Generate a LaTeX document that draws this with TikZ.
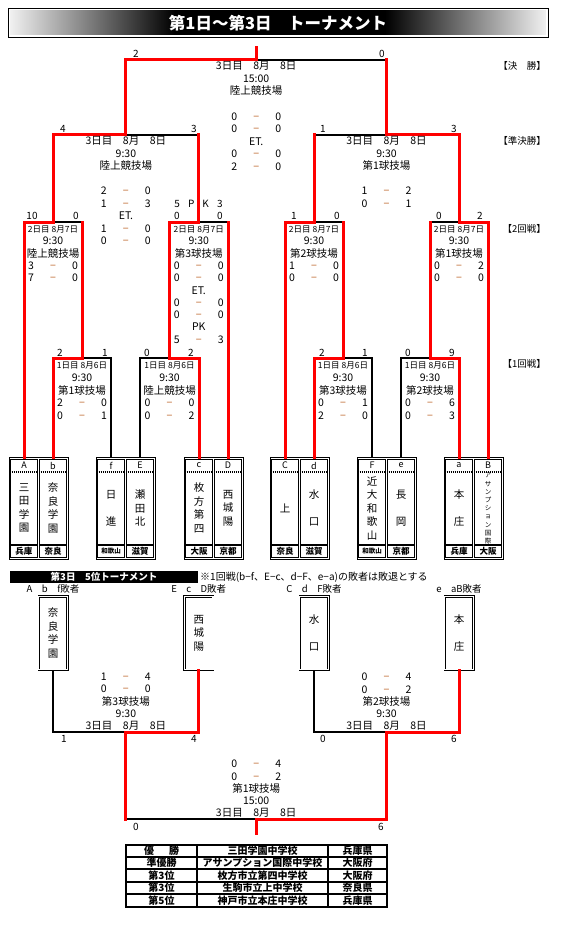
\documentclass[tikz,border=0pt]{standalone}
\usepackage{fontspec}
\setmainfont{Noto Sans CJK JP}
\usetikzlibrary{calc}

\definecolor{dashc}{RGB}{190,100,40}

% one score row: left, dash, right
\newcommand{\scoreln}[2]{\makebox[8pt]{#1}\makebox[36pt]{\textcolor{dashc}{−}}\makebox[8pt]{#2}}

\tikzset{
  win/.style={red, line width=3pt, line cap=rect},
  lose/.style={black, line width=1.1pt},
  info/.style={anchor=north, align=center, inner sep=0pt, font=\fontsize{10.5}{#1}\selectfont},
  day/.style={inner sep=0pt, font=\fontsize{8.5}{9}\selectfont},
  num/.style={inner sep=0pt, font=\fontsize{10}{10}\selectfont},
  rnd/.style={anchor=east, inner sep=0pt, font=\fontsize{9.5}{10}\selectfont},
  fifth/.style={draw, double, double distance=1.3pt, line width=0.6pt, minimum width=28.5pt,
    minimum height=73.5pt, inner sep=0pt, align=center, font=\fontsize{10.5}{13.5}\selectfont},
  cell/.style={inner sep=0pt, font=\fontsize{10}{10}\selectfont\bfseries}
}

\begin{document}
\begin{tikzpicture}[x=1pt,y=-1pt]
\useasboundingbox (0,0) rectangle (560,936);
\fill[white] (0,0) rectangle (560,936);

% title bar
\shade[left color=gray!10, right color=black] (9,9) rectangle (175,36);
\fill[black] (175,9) rectangle (385,36);
\shade[left color=black, right color=gray!10] (385,9) rectangle (547,36);
\draw[line width=0.8pt] (8,8) rectangle (548,37);
\draw[white, line width=0.5pt] (9.6,9.6) rectangle (546.4,35.4);
\node[text=white, inner sep=0pt, font=\fontsize{16.5}{16.5}\selectfont\bfseries] (title) at (278,23) {第1日～第3日　トーナメント};

% round labels
\node[rnd] (lbF) at (546,66) {【決　勝】};
\node[rnd] (lbS) at (546,141) {【準決勝】};
\node[rnd] (lb2) at (546,229) {【2回戦】};
\node[rnd] (lb1) at (546,364) {【1回戦】};

% team boxes
\foreach \x in {24,111,199,285,372,459}
  \draw[line width=0.8pt] (\x-15,457) rectangle (\x+44,559);
\foreach \x/\lt/\nm/\pf in {24/A/{三\\田\\学\\園}/兵庫, 53/b/{奈\\良\\学\\園}/奈良,
    111/f/{日\\[13.5pt]進}/{\fontsize{6.5}{7}\selectfont 和歌山}, 140/E/{瀬\\田\\北}/滋賀,
    199/c/{枚\\方\\第\\四}/大阪, 228/D/{西\\城\\陽}/京都,
    285/C/{上}/奈良, 314/d/{水\\[13.5pt]口}/滋賀,
    372/F/{近\\大\\和\\歌\\山}/{\fontsize{6.5}{7}\selectfont 和歌山}, 401/e/{長\\[13.5pt]岡}/京都,
    459/a/{本\\[13.5pt]庄}/兵庫, 488/B/{}/大阪}{
  \draw[line width=0.8pt] (\x-13.5,459) rectangle (\x+13.5,557);
  \draw[line width=1.1pt, dash pattern=on 1pt off 1pt] (\x-12.5,472) -- (\x+12.5,472);
  \draw[line width=1.3pt] (\x-13.5,545) -- (\x+13.5,545);
  \coordinate (\lt) at (\x,457);
  \node[inner sep=0pt, font=\fontsize{9}{9}\selectfont] (lt\lt) at (\x,465.5) {\lt};
  \node[align=center, inner sep=0pt, font=\fontsize{10.5}{13.5}\selectfont] (nm\lt) at (\x,508) {\nm};
  \node[inner sep=0pt, font=\fontsize{8.5}{9}\selectfont\bfseries] (pf\lt) at (\x,551.5) {\pf};
}
\node[align=center, inner sep=0pt, font=\fontsize{6.5}{8.2}\selectfont] (nmBx) at (488,508.5)
  {ア\\サ\\ン\\プ\\シ\\ョ\\ン\\国\\際};

% bracket points
\coordinate (m1) at (82,358);
\coordinate (m2) at (169.5,358);
\coordinate (m3) at (343,358);
\coordinate (m4) at (430,358);
\coordinate (q1) at (53,222);
\coordinate (q2) at (198.75,222);
\coordinate (q3) at (314,222);
\coordinate (q4) at (459,222);
\coordinate (s1) at (125.9,135);
\coordinate (s2) at (386.5,135);
\coordinate (fin) at (256.2,60);
\coordinate (champ) at (256.2,48);

% 1st round
\draw[lose] (f) |- (m1);
\draw[lose] (E) |- (m2);
\draw[lose] (F) |- (m3);
\draw[lose] (e) |- (m4);
\draw[win] (b) |- (m1);
\draw[win] (c) |- (m2);
\draw[win] (d) |- (m3);
\draw[win] (a) |- (m4);

% 2nd round
\draw[lose] (m1 |- q1) -- (q1);
\draw[lose] (D |- q2) -- (q2);
\draw[lose] (m3 |- q3) -- (q3);
\draw[lose] (m4 |- q4) -- (q4);
\draw[win] (A) |- (q1);
\draw[win] (m1) -- (m1 |- q1);
\draw[win] (m2) |- (q2);
\draw[win] (D) -- (D |- q2);
\draw[win] (C) |- (q3);
\draw[win] (m3) -- (m3 |- q3);
\draw[win] (m4) -- (m4 |- q4);
\draw[win] (B) |- (q4);

% semi-finals and final
\draw[lose] (q2 |- s1) -- (s1);
\draw[lose] (q3 |- s2) -- (s2);
\draw[lose] (s2 |- fin) -- (fin);
\draw[win] (q1) |- (s1);
\draw[win] (q2) -- (q2 |- s1);
\draw[win] (q4) |- (s2);
\draw[win] (q3) -- (q3 |- s2);
\draw[win] (s1) |- (fin);
\draw[win] (s2) -- (s2 |- fin);
\draw[win] (fin) -- (champ);

% goals above the lines
\foreach \x/\y/\t [count=\i] in {136/54/2, 382/54/0, 63/129/4, 194/129/3, 323/129/1, 454/129/3,
    32/216/10, 76/216/0, 177/216/0, 220/216/0, 294/216/1, 337/216/0, 439/216/0, 480/216/2,
    60/353/2, 105/353/1, 147/353/0, 191/353/2, 322/353/2, 365/353/1, 408/353/0, 452/353/9}
  \node[num] (g\i) at (\x,\y) {\t};
\node[num] (pk2) at (198.5,204)
  {\makebox[14.3pt]{5}\makebox[14.3pt]{P}\makebox[14.3pt]{K}\makebox[14.3pt]{3}};

% match details
\node[info=12.6] (infoF) at (256.2,61.2) {3日目　8月　8日\\15:00\\陸上競技場\\[12.6pt]\scoreln{0}{0}\\\scoreln{0}{0}\\ET.\\\scoreln{0}{0}\\\scoreln{2}{0}};
\node[info=12.5] (infoS1) at (125.9,136.2) {3日目　8月　8日\\9:30\\陸上競技場\\[12.5pt]\scoreln{2}{0}\\\scoreln{1}{3}\\ET.\\\scoreln{1}{0}\\\scoreln{0}{0}};
\node[info=12.5] (infoS2) at (386.5,136.2) {3日目　8月　8日\\9:30\\第1球技場\\[12.5pt]\scoreln{1}{2}\\\scoreln{0}{1}};

\foreach \x/\i in {53/1, 198.75/2, 314/3, 459/4}
  \node[day] (dq\i) at (\x,229) {2日目 8月7日};
\node[info=12.3] (infoQ1) at (53,237) {9:30\\陸上競技場\\\scoreln{3}{0}\\\scoreln{7}{0}};
\node[info=12.3] (infoQ2) at (198.75,237) {9:30\\第3球技場\\\scoreln{0}{0}\\\scoreln{0}{0}\\ET.\\\scoreln{0}{0}\\\scoreln{0}{0}\\PK\\\scoreln{5}{3}};
\node[info=12.3] (infoQ3) at (314,237) {9:30\\第2球技場\\\scoreln{1}{0}\\\scoreln{0}{0}};
\node[info=12.3] (infoQ4) at (459,237) {9:30\\第1球技場\\\scoreln{0}{2}\\\scoreln{0}{0}};

\foreach \x/\i in {82/1, 169.5/2, 343/3, 430/4}
  \node[day] (dm\i) at (\x,365) {1日目 8月6日};
\node[info=12.4] (infoM1) at (82,374) {9:30\\第1球技場\\\scoreln{2}{0}\\\scoreln{0}{1}};
\node[info=12.4] (infoM2) at (169.5,374) {9:30\\陸上競技場\\\scoreln{0}{0}\\\scoreln{0}{2}};
\node[info=12.4] (infoM3) at (343,374) {9:30\\第3球技場\\\scoreln{0}{1}\\\scoreln{2}{0}};
\node[info=12.4] (infoM4) at (430,374) {9:30\\第2球技場\\\scoreln{0}{6}\\\scoreln{0}{3}};

% 5th place
\node[fill=black, text=white, minimum width=188pt, minimum height=12.5pt, inner sep=0pt,
  font=\fontsize{9.5}{10}\selectfont\bfseries] (h5) at (104,577.2) {第3日　5位トーナメント};
\node[anchor=west, inner sep=0pt, font=\fontsize{10}{10}\selectfont] (note5) at (200,577)
  {※1回戦(b−f、E−c、d−F、e−a)の敗者は敗退とする};

\foreach \x/\lb/\nm/\i in {53/{A　b　f敗者}/{奈\\良\\学\\園}/1, 198.75/{E　c　D敗者}/{西\\城\\陽}/2,
    314/{C　d　F敗者}/{水\\[13pt]口}/3, 459/{e　aB敗者}/{本\\[13pt]庄}/4}{
  \node[inner sep=0pt, font=\fontsize{9.5}{10}\selectfont] (fl\i) at (\x,589) {\lb};
  \node[fifth] (fb\i) at (\x,633) {\nm};
}

\coordinate (h1) at (125.9,732);
\coordinate (h2) at (386.5,732);
\coordinate (h3) at (256.2,819);
\coordinate (h3end) at (256.2,833);
\draw[lose] (fb1.south) |- (h1);
\draw[lose] (fb3.south) |- (h2);
\draw[lose] (h1 |- h3) -- (h3);
\draw[win] (fb2.south) |- (h1);
\draw[win] (fb4.south) |- (h2);
\draw[win] (h1) -- (h1 |- h3);
\draw[win] (h2) |- (h3);
\draw[win] (h3) -- (h3end);

\foreach \x/\y/\t [count=\i] in {64/739/1, 194/739/4, 323/739/0, 454/739/6, 136/827/0, 381/827/6}
  \node[num] (k\i) at (\x,\y) {\t};

\node[info=12.2] (infoH1) at (125.9,673) {\scoreln{1}{4}\\\scoreln{0}{0}\\第3球技場\\9:30\\3日目　8月　8日};
\node[info=12.2] (infoH2) at (386.5,673) {\scoreln{0}{4}\\\scoreln{0}{2}\\第2球技場\\9:30\\3日目　8月　8日};
\node[info=12.2] (infoH3) at (256.2,760) {\scoreln{0}{4}\\\scoreln{0}{2}\\第1球技場\\15:00\\3日目　8月　8日};

% result table
\draw[line width=1.5pt] (126,845) rectangle (387,907);
\foreach \y in {857,869,882,894}
  \draw[line width=1.2pt] (126,\y) -- (387,\y);
\foreach \x in {197,328}
  \draw[line width=1.2pt] (\x,845) -- (\x,907);
\foreach \y/\ra/\rb/\rc [count=\i] in {851/{優\hspace{1.5em}勝}/三田学園中学校/兵庫県,
    863/準優勝/アサンプション国際中学校/大阪府, 875.5/第3位/枚方市立第四中学校/大阪府,
    888/第3位/生駒市立上中学校/奈良県, 900.5/第5位/神戸市立本庄中学校/兵庫県}{
  \node[cell] (rk\i) at (161.5,\y) {\ra};
  \node[cell] (sch\i) at (262.5,\y) {\rb};
  \node[cell] (pr\i) at (357.5,\y) {\rc};
}
\end{tikzpicture}
\end{document}
